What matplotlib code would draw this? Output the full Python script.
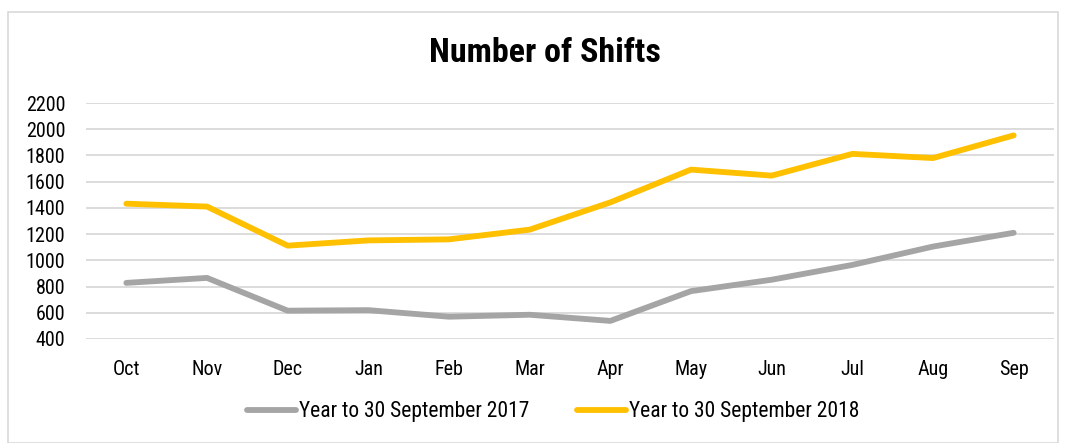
import matplotlib
matplotlib.use("Agg")
import matplotlib.pyplot as plt
from matplotlib.patches import Rectangle

months = ["Oct", "Nov", "Dec", "Jan", "Feb", "Mar", "Apr", "May", "Jun", "Jul", "Aug", "Sep"]
shifts_2017 = [828, 866, 616, 620, 570, 585, 538, 765, 852, 965, 1105, 1210]
shifts_2018 = [1432, 1410, 1112, 1152, 1160, 1234, 1442, 1692, 1646, 1812, 1780, 1953]
yticks = [400, 600, 800, 1000, 1200, 1400, 1600, 1800, 2000, 2200]
label_2017 = "Year to 30 September 2017"
label_2018 = "Year to 30 September 2018"
title = "Number of Shifts"

plt.rcParams['font.family'] = ['Roboto Condensed', 'Liberation Sans', 'DejaVu Sans']

W, H = 1066, 443
fig = plt.figure(figsize=(W / 100, H / 100), dpi=100)
fig.patch.set_facecolor("white")
fig.add_artist(Rectangle((8 / W, 0), (W - 16) / W, (H - 12) / H, transform=fig.transFigure,
                         fill=False, edgecolor="#d9d9d9", linewidth=1.2))

left, right = 86, 1054
top, bottom = 103, 339
ax = fig.add_axes([left / W, 1 - bottom / H, (right - left) / W, (bottom - top) / H])
x = list(range(len(months)))
ax.plot(x, shifts_2017, color="#a5a5a5", linewidth=4.2, solid_capstyle="round", label=label_2017)
ax.plot(x, shifts_2018, color="#ffc000", linewidth=4.2, solid_capstyle="round", label=label_2018)
ax.set_xlim(-0.5, len(months) - 0.5)
ax.set_ylim(400, 2200)
ax.set_yticks(yticks)
ax.set_yticklabels([str(v) for v in yticks], fontsize=14.5)
ax.set_xticks(x)
ax.set_xticklabels(months, fontsize=14.5)
ax.tick_params(axis="both", length=0)
ax.tick_params(axis="y", pad=15)
ax.tick_params(axis="x", pad=15)
ax.grid(axis="y", color="#d9d9d9", linewidth=1.3)
ax.set_axisbelow(True)
for s in ax.spines.values():
    s.set_visible(False)

fig.text(545 / W, 1 - 53 / H, title, ha="center", va="center", fontsize=24.5, fontweight="bold")

leg = fig.legend(loc="center", bbox_to_anchor=(553 / W, 1 - 412 / H), ncol=2, frameon=False,
                 fontsize=15.5, handlelength=2.3, handletextpad=0.12, columnspacing=2.2)
fig.savefig("out.png", dpi=100)
